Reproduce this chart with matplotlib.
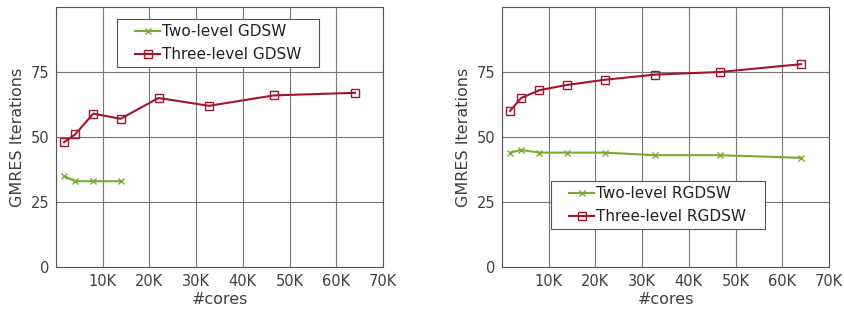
import numpy as np
import matplotlib.pyplot as plt
from matplotlib.patches import Rectangle
from matplotlib.ticker import FuncFormatter

cores = [1728, 4096, 8000, 13824, 21952, 32768, 46656, 64000]

gdsw_two = [35, 33, 33, 33]
gdsw_three = [48, 51, 59, 57, 65, 62, 66, 67]

rgdsw_two = [44, 45, 44, 44, 44, 43, 43, 42]
rgdsw_three = [60, 65, 68, 70, 72, 74, 75, 78]

green = '#77ac30'
red = '#a2142f'
txt = '#404040'

W, H = 844, 310
fig = plt.figure(figsize=(W / 100, H / 100), dpi=100)
ax1 = fig.add_axes([56 / W, 43 / H, 327 / W, 260 / H])
ax2 = fig.add_axes([502 / W, 43 / H, 327 / W, 260 / H])

kfmt = FuncFormatter(lambda v, p: '' if v == 0 else '%dK' % int(v / 1000))

def setup(ax):
    ax.set_xlim(0, 70000)
    ax.set_ylim(0, 100)
    ax.set_xticks(np.arange(0, 70001, 10000))
    ax.set_yticks([0, 25, 50, 75])
    ax.xaxis.set_major_formatter(kfmt)
    ax.grid(True, color='#777777', lw=0.8)
    ax.set_axisbelow(True)
    ax.tick_params(length=0, labelsize=10.5, colors=txt, pad=5)
    for s in ax.spines.values():
        s.set_color('#555555')
        s.set_linewidth(0.8)
    ax.set_xlabel('#cores', fontsize=11.5, color=txt, labelpad=2)
    ax.set_ylabel('GMRES Iterations', fontsize=11.5, color=txt, labelpad=4)

def legend_box(ax, box, anchor):
    # box: (left, top, right, bottom) in pixels; anchor: (x, y) of handle start
    l, t, r, b = box
    ax.add_patch(Rectangle((l / W, 1 - b / H), (r - l) / W, (b - t) / H,
                           transform=fig.transFigure, facecolor='white',
                           edgecolor='#555555', lw=0.8, zorder=4))
    leg = ax.legend(loc='upper left', bbox_to_anchor=(anchor[0] / W, 1 - anchor[1] / H),
                    bbox_transform=fig.transFigure, fontsize=11, frameon=False,
                    handlelength=1.64, handletextpad=0.15, borderpad=0,
                    borderaxespad=0, labelspacing=0.5)
    leg.set_zorder(5)
    for t in leg.get_texts():
        t.set_color('#222222')

setup(ax1)
ax1.plot(cores[:len(gdsw_two)], gdsw_two, color=green, marker='x', ms=5, lw=1.5,
         label='Two-level GDSW')
ax1.plot(cores, gdsw_three, color=red, marker='s', ms=5.5, mfc='none', lw=1.5,
         label='Three-level GDSW')
legend_box(ax1, (117, 19, 319, 67), (135, 24.5))

setup(ax2)
ax2.plot(cores, rgdsw_two, color=green, marker='x', ms=5, lw=1.5,
         label='Two-level RGDSW')
ax2.plot(cores, rgdsw_three, color=red, marker='s', ms=5.5, mfc='none', lw=1.5,
         label='Three-level RGDSW')
legend_box(ax2, (551, 181, 765, 229), (569, 186.5))

fig.savefig('out.png', dpi=100)
